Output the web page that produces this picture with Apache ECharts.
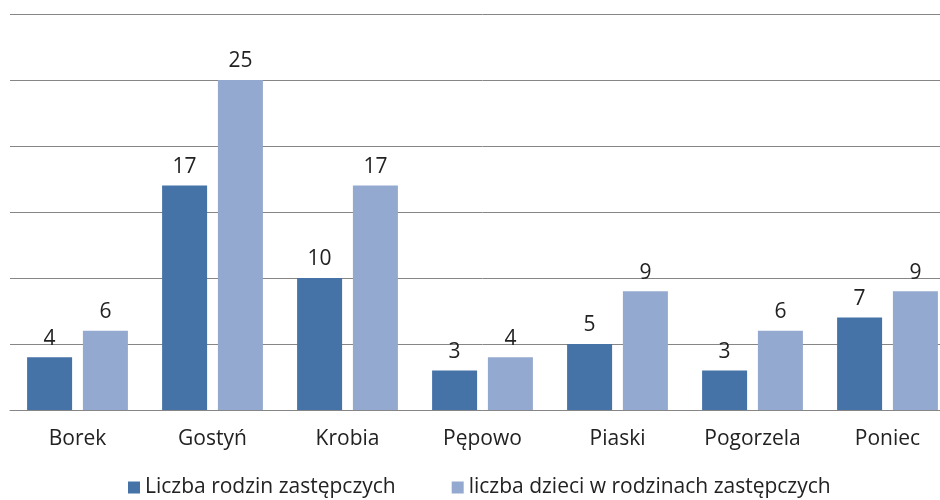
<!DOCTYPE html>
<html>
<head>
<meta charset="utf-8">
<script src="https://cdn.jsdelivr.net/npm/echarts@6/dist/echarts.min.js"></script>
<style>
  html, body { margin: 0; padding: 0; background: #fff; overflow: hidden; }
  #main { width: 955px; height: 500px; }
</style>
</head>
<body>
<div id="main"></div>
<script>
// gminy
var gminy = ['Borek', 'Gostyń', 'Krobia', 'Pępowo', 'Piaski', 'Pogorzela', 'Poniec'];
var seriesNames = ['Liczba rodzin zastępczych', 'liczba dzieci w rodzinach zastępczych'];
var rodziny = [4, 17, 10, 3, 5, 3, 7];
var dzieci = [6, 25, 17, 4, 9, 6, 9];

var font = 'Open Sans';
var myChart = echarts.init(document.getElementById('main'));

var labelStyle = {
    show: true,
    position: 'top',
    distance: 8,
    color: '#222',
    fontSize: 21,
    fontFamily: font
};

var option = {
    animation: false,
    color: ['#4572A7', '#93A9CF'],
    grid: {
        left: 10,
        top: 14,
        right: 0,
        bottom: 90
    },
    legend: {
        bottom: -3,
        left: 123,
        itemWidth: 12,
        itemHeight: 12,
        itemGap: 56,
        icon: 'rect',
        textStyle: { color: '#222', fontSize: 21, fontFamily: font },
        data: seriesNames
    },
    xAxis: {
        type: 'category',
        data: gminy,
        axisLine: { lineStyle: { color: '#868686', width: 1 } },
        axisTick: { show: false },
        axisLabel: { color: '#222', fontSize: 21, fontFamily: font, margin: 19 }
    },
    yAxis: {
        type: 'value',
        min: 0,
        max: 30,
        interval: 5,
        axisLabel: { show: false },
        axisLine: { show: false },
        axisTick: { show: false },
        splitLine: { lineStyle: { color: '#868686', width: 1 } }
    },
    series: [
        {
            name: seriesNames[0],
            type: 'bar',
            data: rodziny,
            barWidth: 45,
            barGap: '24%',
            label: labelStyle
        },
        {
            name: seriesNames[1],
            type: 'bar',
            data: dzieci,
            barWidth: 45,
            label: labelStyle
        }
    ]
};

myChart.setOption(option);
</script>
</body>
</html>
